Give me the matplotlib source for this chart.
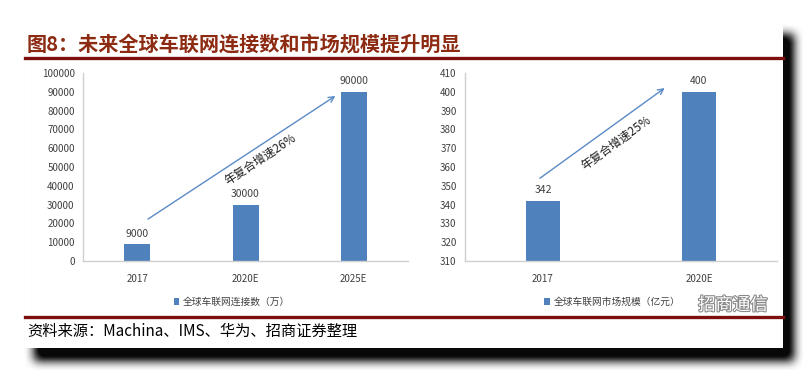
import matplotlib
matplotlib.use("Agg")
import matplotlib.pyplot as plt
import matplotlib.patheffects as pe
import numpy as np
from matplotlib.patches import Rectangle
from matplotlib.lines import Line2D

plt.rcParams["font.family"] = ["Noto Sans CJK SC", "DejaVu Sans"]

# ── data ──────────────────────────────────────────────────────────────────────
conn_years = ["2017", "2020E", "2025E"]
conn_values = [9000, 30000, 90000]
conn_label = "全球车联网连接数（万）"
conn_cagr = "年复合增速26%"

market_years = ["2017", "2020E"]
market_values = [342, 400]
market_label = "全球车联网市场规模（亿元）"
market_cagr = "年复合增速25%"

title = "图8：未来全球车联网连接数和市场规模提升明显"
source = "资料来源：Machina、IMS、华为、招商证券整理"

BAR = "#4F81BD"
ARROW = "#5A8AC6"
AXIS = "#D0D0D0"
TICK = "#404040"
RED = "#7E0F0F"

W, H = 809, 375
fig = plt.figure(figsize=(W / 100, H / 100), dpi=100)


def px(x0, y0, x1, y1):
    """pixel box (top-left origin) -> figure fraction rect"""
    return [x0 / W, 1 - y1 / H, (x1 - x0) / W, (y1 - y0) / H]


# ── card with blurred drop shadow ─────────────────────────────────────────────
mask = np.zeros((H, W))
mask[34:361, 34:794] = 1.0
kernel = np.ones(11) / 11
for _ in range(2):
    mask = np.apply_along_axis(lambda r: np.convolve(r, kernel, mode="same"), 1, mask)
    mask = np.apply_along_axis(lambda c: np.convolve(c, kernel, mode="same"), 0, mask)
shadow = np.zeros((H, W, 4))
shadow[..., 3] = np.clip(mask * 1.15, 0, 0.97)
fig.figimage(shadow[::-1], xo=0, yo=0, origin="lower", zorder=0)

fig.patches.append(Rectangle((25 / W, 1 - 348 / H), 758 / W, 323 / H,
                             transform=fig.transFigure, facecolor="white",
                             edgecolor="none", zorder=1))

fig.text(27 / W, 1 - 44 / H, title, fontsize=14.5, fontweight="bold",
         color="#8C2A12", va="center", ha="left", zorder=3)
fig.add_artist(Line2D([25 / W, 783 / W], [1 - 58 / H] * 2, color=RED, lw=2.4, zorder=3))
fig.add_artist(Line2D([25 / W, 783 / W], [1 - 317 / H] * 2, color=RED, lw=2.4, zorder=3))
fig.text(27 / W, 1 - 331 / H, source, fontsize=11, color="black",
         va="center", ha="left", zorder=3)


def style(ax):
    ax.set_facecolor("none")
    for s in ("top", "right"):
        ax.spines[s].set_visible(False)
    for s in ("left", "bottom"):
        ax.spines[s].set_color(AXIS)
        ax.spines[s].set_linewidth(1)
    ax.tick_params(axis="y", length=0, labelsize=7, colors=TICK, pad=6)
    ax.tick_params(axis="x", length=0, labelsize=7, colors=TICK, pad=9)


def cagr(ax, start, end, text, text_xy):
    ax.annotate("", xy=end, xytext=start,
                arrowprops=dict(arrowstyle="->", color=ARROW, lw=1,
                                shrinkA=0, shrinkB=0))
    p0 = ax.transData.transform(start)
    p1 = ax.transData.transform(end)
    ang = np.degrees(np.arctan2(p1[1] - p0[1], p1[0] - p0[0]))
    ax.text(*text_xy, text, rotation=ang, rotation_mode="anchor",
            ha="center", va="center", fontsize=8.5, fontweight="medium",
            color="#202020")


# ── left chart ────────────────────────────────────────────────────────────────
ax1 = fig.add_axes(px(83, 73, 408, 261), zorder=2)
style(ax1)
x1 = np.arange(len(conn_years))
bars1 = ax1.bar(x1, conn_values, width=0.24, color=BAR, label=conn_label)
ax1.set_xlim(-0.5, len(conn_years) - 0.5)
ax1.set_ylim(0, 100000)
ax1.set_yticks(np.arange(0, 100001, 10000))
ax1.set_xticks(x1, conn_years)
for xi, v in zip(x1, conn_values):
    ax1.annotate(f"{v}", (xi, v), xytext=(0, 4), textcoords="offset points",
                 ha="center", va="bottom", fontsize=7.5, color=TICK)
cagr(ax1, (0.1, 22300), (1.83, 87800), conn_cagr, (1.14, 53800))
ax1.legend(handles=[bars1], loc="center", bbox_to_anchor=(232 / W, 1 - 302 / H),
           bbox_transform=fig.transFigure, frameon=False, fontsize=7,
           handlelength=0.6, handleheight=0.6, handletextpad=0.4,
           labelcolor=TICK)

# ── right chart ───────────────────────────────────────────────────────────────
ax2 = fig.add_axes(px(465, 73, 777, 261), zorder=2)
style(ax2)
x2 = np.arange(len(market_years))
bars2 = ax2.bar(x2, market_values, width=0.22, color=BAR, label=market_label)
ax2.set_xlim(-0.5, len(market_years) - 0.5)
ax2.set_ylim(310, 410)
ax2.set_yticks(np.arange(310, 411, 10))
ax2.set_xticks(x2, market_years)
for xi, v in zip(x2, market_values):
    ax2.annotate(f"{v}", (xi, v), xytext=(0, 4), textcoords="offset points",
                 ha="center", va="bottom", fontsize=7.5, color=TICK)
cagr(ax2, (-0.02, 354), (0.78, 402), market_cagr, (0.47, 373))
ax2.legend(handles=[bars2], loc="center", bbox_to_anchor=(612 / W, 1 - 302 / H),
           bbox_transform=fig.transFigure, frameon=False, fontsize=7,
           handlelength=0.6, handleheight=0.6, handletextpad=0.4,
           labelcolor=TICK)

wm = fig.text(733 / W, 1 - 305 / H, "招商通信", fontsize=12.5, color="white",
              ha="center", va="center", zorder=4)
wm.set_path_effects([pe.withStroke(linewidth=1.6, foreground="#8A8A8A")])

fig.savefig("out.png", dpi=100, facecolor="white")
